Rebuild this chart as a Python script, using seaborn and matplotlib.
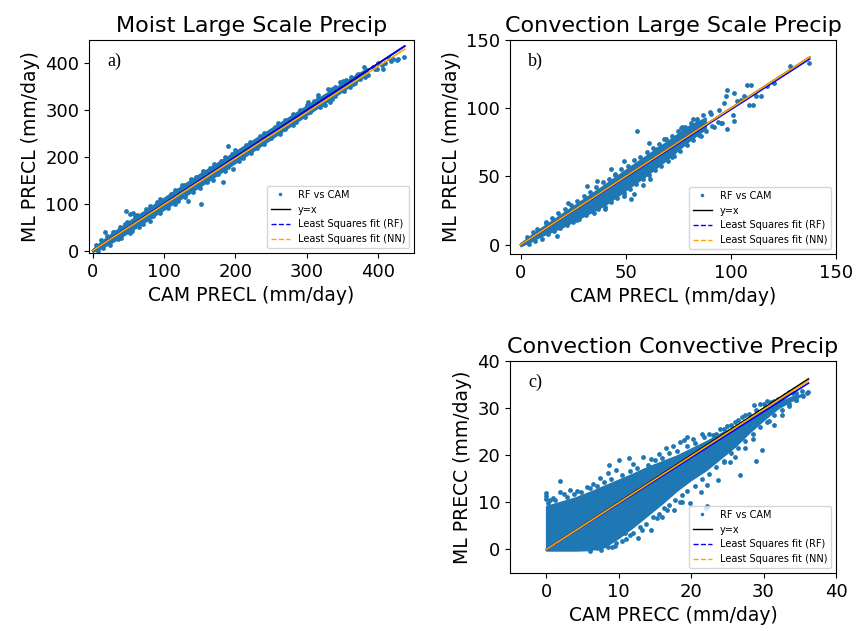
import numpy as np
import pandas as pd
import matplotlib
matplotlib.use("Agg")
import matplotlib.pyplot as plt
from matplotlib.lines import Line2D
import seaborn as sns

BLUE = "#1f77b4"

# ---------------- Panel a: Moist, large-scale precip ----------------
a_core_x = [0, 10, 25, 50, 100, 150, 200, 250, 300, 350, 385]
a_core_hi = [3, 17, 35, 62, 113, 164, 212, 261, 310, 358, 390]
a_core_lo = [-2, 4, 16, 39, 88, 137, 188, 239, 290, 341, 378]
a_pts_x = [17, 30, 45, 47, 52, 57, 60, 75, 90, 110, 130, 133, 145, 152, 165, 180, 182,
           189, 195, 197, 215, 235, 255, 270, 290, 302, 310, 316, 325, 330, 332, 340,
           346, 355, 370, 372, 380, 385, 392, 395, 398, 400, 405, 407, 410, 415, 418,
           420, 426, 428, 436, 35, 55, 70, 85, 105, 120, 140, 160, 175, 190, 210, 230,
           250, 270, 285, 305, 320, 340, 360, 375, 365, 378,
           5, 12, 20, 28, 38, 48, 62, 80, 95, 115, 125, 138, 155, 170, 185, 200, 220,
           240, 260, 280, 300, 315, 335, 350, 362,
           8, 15, 25, 40, 52, 65, 80, 95, 115, 130, 150, 168, 185, 205, 222, 240, 262,
           280, 298, 318, 335, 352, 368, 382]
a_pts_y = [40, 40, 58, 84, 78, 81, 73, 88, 104, 122, 141, 107, 157, 100, 176, 191, 147,
           224, 206, 175, 225, 245, 265, 280, 300, 318, 320, 332, 311, 346, 318, 350,
           361, 365, 375, 378, 393, 376, 392, 389, 388, 400, 396, 389, 400, 412, 405,
           410, 407, 409, 414, 24, 42, 57, 73, 91, 106, 126, 146, 163, 178, 199, 219,
           240, 259, 275, 296, 311, 330, 350, 366, 357, 380,
           12, 22, 32, 40, 51, 62, 77, 96, 111, 130, 141, 154, 171, 185, 200, 214, 232,
           252, 272, 291, 312, 327, 346, 362, 372,
           -1, 6, 13, 28, 37, 50, 64, 80, 99, 115, 133, 152, 170, 191, 208, 227, 249,
           268, 285, 306, 324, 341, 358, 372]
a_xmax = 437
a_fit_rf = (1.0, 0.0)
a_fit_nn = (0.985, 0.0)

# ---------------- Panel b: Convection, large-scale precip ----------------
b_core_x = [0, 5, 10, 20, 30, 40, 50, 60, 70, 80, 88]
b_core_hi = [1, 7, 12.5, 23, 33.5, 44, 55, 65.5, 76, 87, 93]
b_core_lo = [-1, 2.5, 6.5, 13, 21, 29, 40, 51, 63, 76, 85]
b_pts_x = [55.3, 61, 49, 43.1, 76.9, 84, 90.4, 98.4, 97.6, 101.5, 107.9, 106.3, 111.9,
           114.3, 110.3, 103.1, 101.5, 98.4, 96, 100.8, 117.4, 120.6, 128.2, 137.3, 94.4,
           96.8, 109.5, 104.7, 108.7, 95.2, 61.8, 49.1, 53.9, 52.3, 31.6, 17.3, 34.8,
           22.6, 36.4, 68.2, 76.1, 45, 58, 65, 72, 27, 12, 40, 82, 86, 92,
           3, 6, 8, 12, 15, 18, 21, 24, 27, 30, 33, 36, 39, 42, 45, 48, 51, 54, 57, 60,
           63, 66, 69, 72, 75, 78, 81, 84, 87, 90,
           4, 7, 10, 13, 16, 19, 22, 25, 28, 31, 34, 37, 40, 43, 46, 49, 52, 55, 58, 61,
           64, 67, 70, 73, 76, 79, 82, 85, 88, 91, 94]
b_pts_y = [83.2, 74.7, 61.3, 55.7, 86.3, 89.7, 96.1, 113, 109.2, 111.2, 117.2, 109.2,
           109.2, 108.7, 102.6, 105, 90.4, 84.9, 89.3, 95.3, 116, 118.4, 130.6, 133.5, 99,
           103.9, 117.2, 106.3, 102.6, 89.3, 48, 35.7, 37, 33.3, 43, 6.6, 23.6,
           30.4, 46.7, 77.1, 85.6, 51, 44, 70, 64, 18, 17, 26, 92, 80, 86,
           6, 9, 11.5, 16, 19.5, 23, 26, 29, 32, 36, 38.5, 42, 46, 48.5, 52, 55.5, 58, 62,
           64.5, 68, 71, 73.5, 77.5, 80, 83, 86.5, 89, 92, 95, 97,
           0.5, 2.5, 4.5, 8, 10, 12.5, 14.5, 17, 19, 21.5, 24.5, 26, 28, 31.5, 34.5, 38,
           41, 44.5, 48, 51, 54.5, 58, 61, 65, 69, 73, 77, 80.5, 83, 87, 90]
b_xmax = 137.5
b_fit_rf = (0.99, 0.0)
b_fit_nn = (1.0, 0.0)

# ---------------- Panel c: Convection, convective precip ----------------
c_core_x = [0, 2, 4, 6, 8, 10, 12, 14, 16, 18, 20, 22, 24, 26, 28, 30, 32, 34, 35.5]
c_core_hi = [9.2, 10.1, 11.0, 12.2, 13.5, 14.8, 16.1, 17.5, 18.7, 19.9, 21.4, 22.9, 24.6,
             26.1, 27.8, 29.6, 31.2, 32.5, 33.0]
c_core_lo = [-0.2, -0.2, -0.2, -0.1, 0.5, 2.5, 4.8, 7.3, 9.8, 12.5, 14.8, 16.8, 19.3,
             21.8, 24.8, 27.5, 30.0, 31.7, 32.9]
c_pts_x = [0, 0, 0, 0.5, 1, 1.9, 1.9, 2.5, 3.3, 4.2, 5.6, 6.5, 7.4, 8.5, 8.6, 9.7, 10,
           11.4, 13.4, 12, 14.5, 15.5, 16.5, 17.5, 18.5, 19, 19.5, 20.3, 21.5, 22.5, 23.5,
           24.5, 25.5, 26.5, 27.5, 28.7, 29.5, 30.5, 31.5, 32.5, 33.5, 34.5, 35.3, 36.1,
           7, 9.1, 9.6, 10.9, 12.7, 11.5, 13.2, 14.4, 15.3, 16.7, 17.6, 16, 18.8, 18.5,
           19.9, 21.3, 22.2, 22, 22.2, 23.7, 24.5, 25.4, 26.1, 26.7, 29, 29.8, 30.7, 27.5,
           28.5, 31.5, 32.5, 33.5, 34.5, 12,
           0.3, 1.2, 2.8, 3.8, 4.8, 6, 7, 8, 9, 10.5, 11.5, 12.5, 14, 15, 16, 17, 18, 19.5,
           20.5, 21.8, 23, 24, 25, 26, 27, 28, 29, 30, 31, 32, 33, 34,
           6, 7.5, 8.5, 9.5, 10.5, 11, 12, 13, 13.8, 14.8, 15.5, 16.3, 17, 17.8, 18.8,
           19.5, 20.5, 21.5, 22.5, 23.5, 24.5, 25.5, 26.5, 27.5, 28.5, 29.5, 30.5, 31.5,
           32.5, 33.5, 34.5, 35.5, 36]
c_pts_y = [12, 11.3, 10.8, 10.5, 11, 12.2, 14.5, 11.8, 12.6, 12.3, 13.3, 13.8, 15.1,
           16.3, 17.9, 16.8, 19, 19.5, 19.7, 18.2, 19.3, 20.2, 21.5, 22, 22.8, 23.2, 23.8,
           23.5, 24.6, 24.6, 24.5, 25.5, 26.5, 27.5, 28.6, 30.6, 30.8, 31.5, 31.6, 32.2,
           33.4, 33.2, 33.6, 33.5, 0.3, 0.6, 1.4, 3.4, 2.5, 3, 4.2, 4.1, 6.6, 8.3, 8.3,
           6.8, 10.1, 10.1, 9.8, 12.2, 13.7, 8.8, 9.3, 14.7, 18.7, 18.6, 19.7, 15.8, 18.7,
           21.2, 27.2, 21.5, 23.5, 26.5, 28.5, 30.5, 31.8, 5.5,
           9.8, 10.4, 11.2, 11.7, 12.2, 13, 13.5, 14.3, 15, 15.8, 16.6, 17.2, 18, 18.9,
           19.4, 20.5, 21, 22, 22.6, 23.8, 24.2, 25.6, 26.3, 27, 28.2, 28.8, 29.5, 30.8,
           31.2, 32, 32.8, 33.2,
           -0.4, -0.2, 0.5, 0.8, 1.8, 2.3, 3.5, 4.8, 5.5, 6.8, 7.5, 8.8, 9.5, 10.5, 11.5,
           12.5, 13.5, 15, 16, 17.5, 18.5, 20.5, 21.5, 23, 24.5, 26, 27, 28.5, 29.5, 30.8,
           31.8, 32.6, 33.2]
c_xmax = 36.2
c_fit_rf = (0.975, 0.0)
c_fit_nn = (0.99, 0.0)

plt.rcParams["font.family"] = ["DejaVu Sans"]
fig = plt.figure(figsize=(8.6, 6.31), dpi=100)

ax_a = fig.add_axes([89 / 860, 1 - 253 / 631, 325 / 860, 213 / 631])
ax_b = fig.add_axes([510 / 860, 1 - 254 / 631, 326 / 860, 214 / 631])
ax_c = fig.add_axes([510 / 860, 1 - 573 / 631, 326 / 860, 212 / 631])


def draw_panel(ax, core_x, core_lo, core_hi, px, py, xmax, fit_rf, fit_nn,
               title, xlabel, ylabel, tag, xlim, ylim, ticks):
    # dense part of the point cloud
    ax.fill_between(core_x, core_lo, core_hi, color=BLUE, linewidth=1.2,
                    edgecolor=BLUE, zorder=1)
    pts = pd.DataFrame({"cam": px, "ml": py})
    sns.scatterplot(data=pts, x="cam", y="ml", ax=ax, s=12, color=BLUE,
                    linewidth=0, zorder=2, legend=False)
    xl = np.array([0.0, xmax])
    sns.lineplot(x=xl, y=xl, ax=ax, color="black", linewidth=1.2, zorder=3)
    sns.lineplot(x=xl, y=fit_rf[0] * xl + fit_rf[1], ax=ax, color="blue",
                 linewidth=1.2, zorder=4)
    sns.lineplot(x=xl, y=fit_nn[0] * xl + fit_nn[1], ax=ax, color="orange",
                 linewidth=1.2, zorder=5)
    ax.set_xlim(*xlim)
    ax.set_ylim(*ylim)
    ax.set_xticks(ticks[0])
    ax.set_yticks(ticks[1])
    ax.tick_params(labelsize=13)
    ax.set_title(title, fontsize=16)
    ax.set_xlabel(xlabel, fontsize=13.5)
    ax.set_ylabel(ylabel, fontsize=13.5)
    ax.text(0.055, 0.9, tag, transform=ax.transAxes, va="center", ha="left",
            fontsize=13, family="Liberation Serif")
    handles = [
        Line2D([], [], linestyle="none", marker="o", markersize=2.5,
               markerfacecolor=BLUE, markeredgewidth=0),
        Line2D([], [], color="black", linewidth=1.0),
        Line2D([], [], color="blue", linewidth=1.0, linestyle="--"),
        Line2D([], [], color="orange", linewidth=1.0, linestyle="--"),
    ]
    labels = ["RF vs CAM", "y=x", "Least Squares fit (RF)", "Least Squares fit (NN)"]
    ax.legend(handles, labels, loc="lower right", fontsize=7)


draw_panel(ax_a, a_core_x, a_core_lo, a_core_hi, a_pts_x, a_pts_y, a_xmax,
           a_fit_rf, a_fit_nn, "Moist Large Scale Precip", "CAM PRECL (mm/day)",
           "ML PRECL (mm/day)", "a)", (-5, 450), (-5, 450),
           ([0, 100, 200, 300, 400], [0, 100, 200, 300, 400]))
draw_panel(ax_b, b_core_x, b_core_lo, b_core_hi, b_pts_x, b_pts_y, b_xmax,
           b_fit_rf, b_fit_nn, "Convection Large Scale Precip", "CAM PRECL (mm/day)",
           "ML PRECL (mm/day)", "b)", (-5, 150), (-6.8, 150),
           ([0, 50, 100, 150], [0, 50, 100, 150]))
draw_panel(ax_c, c_core_x, c_core_lo, c_core_hi, c_pts_x, c_pts_y, c_xmax,
           c_fit_rf, c_fit_nn, "Convection Convective Precip", "CAM PRECC (mm/day)",
           "ML PRECC (mm/day)", "c)", (-5, 40), (-5, 40),
           ([0, 10, 20, 30, 40], [0, 10, 20, 30, 40]))

fig.savefig("out.png", dpi=100)
